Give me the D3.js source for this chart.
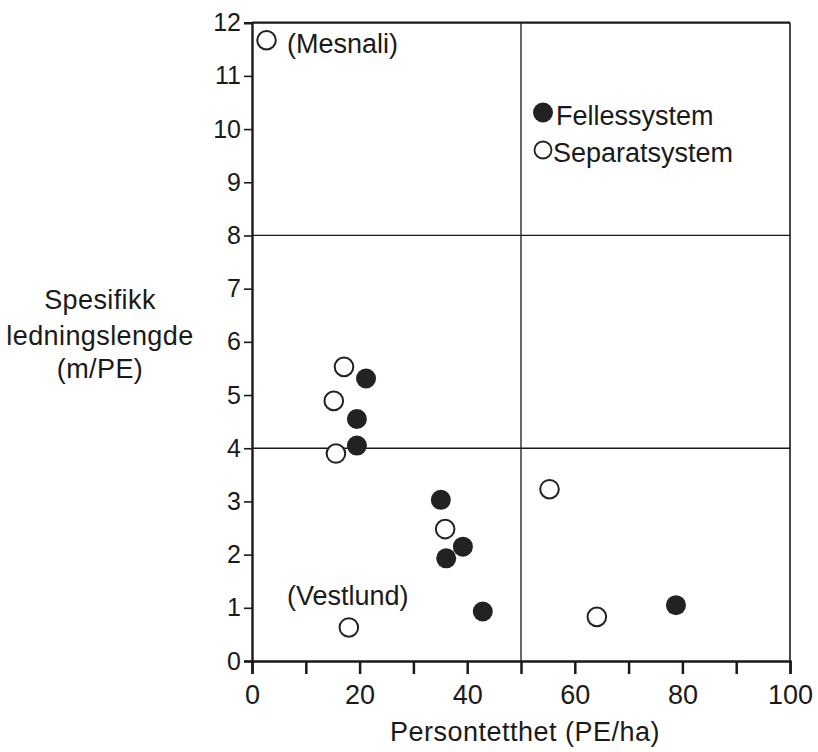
<!DOCTYPE html>
<html><head><meta charset="utf-8">
<script src="https://cdn.jsdelivr.net/npm/d3@7"></script>
<style>body{margin:0;background:#fff}svg{display:block}text{font-family:"Liberation Sans",Arial,sans-serif;fill:#1a1a1a}</style>
</head><body><svg id="c" width="818" height="752"></svg>
<script>
const fellesX = [21.2, 19.5, 19.5, 35.1, 36.1, 39.2, 42.9, 78.8];
const fellesY = [5.31, 4.55, 4.05, 3.03, 1.93, 2.15, 0.93, 1.05];
const separatX = [2.7, 17.1, 15.2, 15.6, 35.9, 18.0, 55.3, 64.1];
const separatY = [11.67, 5.53, 4.89, 3.90, 2.48, 0.63, 3.23, 0.83];
const xTicks = [0, 20, 40, 60, 80, 100];
const xMinorTicks = [0,10,20,30,40,50,60,70,80,90,100];
const yTicks = [0,1,2,3,4,5,6,7,8,9,10,11,12];
const gridY = [4, 8];
const gridX = [50];
const yTitle = ["Spesifikk","ledningslengde","(m/PE)"];
const xTitle = "Persontetthet (PE/ha)";
const legend = [{label:"Fellessystem",filled:true},{label:"Separatsystem",filled:false}];

const svg = d3.select("#c");
const x = d3.scaleLinear().domain([0,100]).range([252,790]);
const y = d3.scaleLinear().domain([0,12]).range([661,22.7]);
const ink = "#1a1a1a";
const FF = "Liberation Sans, Arial, sans-serif";

// frame and grid
svg.append("line").attr("x1",x(0)).attr("x2",x(100)).attr("y1",y(12)).attr("y2",y(12)).attr("stroke",ink).attr("stroke-width",2.2);
svg.append("line").attr("x1",x(100)).attr("x2",x(100)).attr("y1",y(12)).attr("y2",y(0)).attr("stroke",ink).attr("stroke-width",1.6);
gridY.forEach(v=>svg.append("line").attr("x1",x(0)).attr("x2",x(100)).attr("y1",y(v)).attr("y2",y(v)).attr("stroke",ink).attr("stroke-width",1.3));
gridX.forEach(v=>svg.append("line").attr("x1",x(v)).attr("x2",x(v)).attr("y1",y(12)).attr("y2",y(0)).attr("stroke",ink).attr("stroke-width",1.3));

// x axis
const xa = svg.append("g").attr("transform",`translate(0,${y(0)})`)
  .call(d3.axisBottom(x).tickValues(xMinorTicks).tickSize(13).tickPadding(11).tickFormat(d=>xTicks.includes(d)?d:""));
xa.select(".domain").attr("stroke",ink).attr("stroke-width",2.4);
xa.selectAll(".tick line").attr("stroke",ink).attr("stroke-width",2.5);
xa.selectAll(".tick text").attr("font-size",27).attr("dy","0.72em").style("fill",ink).attr("font-family",FF);

// y axis
const ya = svg.append("g").attr("transform",`translate(${x(0)},0)`)
  .call(d3.axisLeft(y).tickValues(yTicks).tickSize(8).tickPadding(3));
ya.select(".domain").attr("stroke",ink).attr("stroke-width",2.4);
ya.selectAll(".tick line").attr("stroke",ink).attr("stroke-width",1.6);
ya.selectAll(".tick text").attr("font-size",25).style("fill",ink).attr("font-family",FF);

// titles
svg.append("text").attr("x",525).attr("y",741).attr("text-anchor","middle").attr("font-size",27).attr("letter-spacing",0.5).text(xTitle);
yTitle.forEach((t,i)=>
  svg.append("text").attr("x",100).attr("y",[309,345,378][i]).attr("text-anchor","middle").attr("font-size",27).attr("letter-spacing",0.4).text(t));

// points
svg.append("g").selectAll("circle").data(fellesX.map((v,i)=>[v,fellesY[i]])).join("circle")
  .attr("cx",d=>x(d[0])).attr("cy",d=>y(d[1])).attr("r",10).attr("fill","#222");
svg.append("g").selectAll("circle").data(separatX.map((v,i)=>[v,separatY[i]])).join("circle")
  .attr("cx",d=>x(d[0])).attr("cy",d=>y(d[1])).attr("r",9.3).attr("fill","#fff").attr("stroke","#222").attr("stroke-width",2);

// annotations
svg.append("text").attr("x",287).attr("y",53).attr("font-size",27).text("(Mesnali)");
svg.append("text").attr("x",287).attr("y",605).attr("font-size",27).text("(Vestlund)");

// legend
legend.forEach((l,i)=>{
  const cy = [112.5,150][i];
  svg.append("circle").attr("cx",543).attr("cy",cy).attr("r",l.filled?10:8.5)
    .attr("fill",l.filled?"#222":"#fff").attr("stroke","#222").attr("stroke-width",l.filled?0:1.8);
  svg.append("text").attr("x",l.filled?556:553).attr("y",[125,162][i]).attr("font-size",27).text(l.label);
});
</script></body></html>
